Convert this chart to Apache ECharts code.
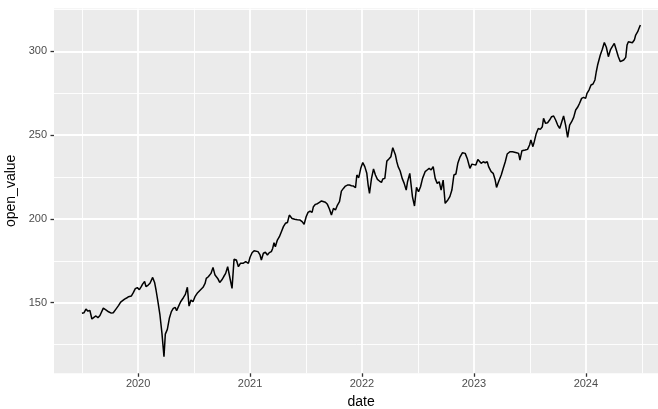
<!DOCTYPE html>
<html>
<head>
<meta charset="utf-8">
<script src="https://cdn.jsdelivr.net/npm/echarts@6/dist/echarts.min.js"></script>
<style>html,body{margin:0;padding:0;background:#fff}#c{width:658px;height:409px}</style>
</head>
<body>
<div id="c"></div>
<script>
var yearFrac = [
2019.498,2019.516,2019.534,2019.551,2019.569,2019.587,2019.605,2019.623,2019.641,2019.659,
2019.689,2019.712,2019.736,2019.760,2019.778,2019.802,2019.826,2019.844,2019.861,2019.879,
2019.897,2019.915,2019.939,2019.957,2019.975,2019.993,2020.011,2020.028,2020.040,2020.058,
2020.070,2020.088,2020.106,2020.130,2020.148,2020.160,2020.177,2020.195,2020.213,2020.231,
2020.243,2020.261,2020.279,2020.297,2020.314,2020.332,2020.344,2020.362,2020.380,2020.404,
2020.422,2020.440,2020.455,2020.472,2020.490,2020.508,2020.532,2020.556,2020.580,2020.598,
2020.609,2020.627,2020.651,2020.669,2020.687,2020.711,2020.729,2020.747,2020.764,2020.782,
2020.800,2020.818,2020.839,2020.857,2020.878,2020.896,2020.914,2020.937,2020.961,2020.985,
2021.000,2021.018,2021.036,2021.053,2021.071,2021.089,2021.101,2021.119,2021.137,2021.155,
2021.172,2021.190,2021.202,2021.214,2021.226,2021.244,2021.262,2021.280,2021.298,2021.316,
2021.334,2021.351,2021.363,2021.375,2021.399,2021.423,2021.447,2021.465,2021.483,2021.501,
2021.518,2021.536,2021.554,2021.566,2021.584,2021.602,2021.620,2021.638,2021.655,2021.673,
2021.691,2021.709,2021.727,2021.745,2021.763,2021.781,2021.799,2021.816,2021.834,2021.852,
2021.870,2021.888,2021.906,2021.924,2021.942,2021.954,2021.971,2021.989,2022.007,2022.025,
2022.043,2022.055,2022.067,2022.085,2022.103,2022.120,2022.138,2022.156,2022.174,2022.186,
2022.204,2022.222,2022.240,2022.258,2022.275,2022.287,2022.299,2022.311,2022.323,2022.341,
2022.359,2022.377,2022.395,2022.407,2022.427,2022.439,2022.451,2022.469,2022.487,2022.505,
2022.523,2022.541,2022.564,2022.582,2022.600,2022.618,2022.636,2022.654,2022.672,2022.690,
2022.707,2022.725,2022.743,2022.767,2022.785,2022.803,2022.821,2022.839,2022.856,2022.874,
2022.898,2022.922,2022.940,2022.964,2022.982,2022.999,2023.017,2023.035,2023.047,2023.065,
2023.083,2023.101,2023.119,2023.131,2023.154,2023.172,2023.190,2023.202,2023.220,2023.244,
2023.262,2023.280,2023.297,2023.321,2023.345,2023.381,2023.399,2023.411,2023.429,2023.458,
2023.479,2023.497,2023.509,2023.527,2023.539,2023.557,2023.575,2023.593,2023.611,2023.622,
2023.640,2023.658,2023.676,2023.694,2023.712,2023.730,2023.748,2023.766,2023.783,2023.801,
2023.819,2023.837,2023.855,2023.873,2023.891,2023.909,2023.926,2023.944,2023.962,2023.980,
2023.998,2024.010,2024.028,2024.046,2024.064,2024.081,2024.093,2024.105,2024.117,2024.129,
2024.147,2024.165,2024.183,2024.201,2024.219,2024.236,2024.254,2024.272,2024.290,2024.308,
2024.320,2024.338,2024.356,2024.368,2024.380,2024.397,2024.415,2024.433,2024.445,2024.463,
2024.475,2024.487
];
var openValue = [
143.7,144.0,146.2,145.0,145.4,140.3,141.3,142.1,141.1,142.4,
146.8,145.8,144.6,143.8,144.0,146.2,148.4,150.4,150.8,152.2,
152.8,153.6,154.0,156.0,158.4,159.0,157.8,159.6,161.1,162.7,
159.6,160.4,161.6,165.1,161.9,157.6,150.6,142.7,131.7,117.8,
131.3,134.1,140.7,144.7,146.6,147.2,145.2,148.0,150.6,153.0,
155.0,159.2,148.0,151.6,150.6,153.6,156.0,157.6,159.2,161.5,
164.5,165.5,167.5,171.1,166.5,164.5,162.1,163.5,165.5,167.5,
171.5,165.5,158.6,175.9,175.5,171.5,173.5,173.5,174.5,173.5,
177.1,179.8,181.0,180.8,180.5,178.5,175.5,179.5,180.1,178.5,
179.9,180.5,182.4,185.8,183.4,187.4,189.4,192.4,195.4,197.4,
197.9,202.3,202.7,200.3,199.8,199.5,199.3,198.4,196.8,201.3,
203.9,204.7,203.9,207.3,208.7,209.1,209.9,210.7,211.3,209.9,
208.7,205.9,202.3,206.3,205.3,208.3,210.3,216.6,218.2,219.6,
220.2,220.2,219.8,219.6,218.6,226.2,224.6,230.2,233.6,231.2,
227.2,220.2,215.3,224.2,229.8,226.2,223.6,222.6,221.8,223.8,
224.2,234.5,235.7,237.1,242.5,241.7,238.1,234.1,231.2,228.6,
224.2,221.2,217.2,222.2,227.2,226.2,213.2,207.7,218.8,216.2,
219.2,224.2,228.2,229.2,230.2,229.2,231.2,224.2,221.2,222.2,
217.2,223.2,209.3,211.3,213.3,217.2,226.2,226.8,233.2,236.7,
239.5,239.1,236.1,230.2,232.7,233.2,232.1,235.5,235.5,233.2,
234.1,233.5,234.1,231.2,228.2,227.2,223.2,218.8,222.2,226.2,
230.2,234.1,238.7,240.1,240.1,239.5,239.1,235.1,240.7,241.1,
241.5,244.1,247.1,243.1,246.1,251.0,254.0,253.4,255.0,260.0,
257.0,257.4,259.0,261.0,261.4,259.0,256.0,254.0,255.0,261.4,
256.0,248.7,256.0,258.0,260.6,265.0,266.6,269.0,271.9,272.5,
271.9,274.9,276.9,279.9,280.5,282.9,287.8,291.8,294.8,297.8,
301.2,305.2,302.4,296.8,300.8,302.8,304.7,300.8,296.8,293.8,
292.8,294.8,296.4,303.8,305.7,306.3,305.1,306.7,309.7,311.7,
313.7,315.7
];
var xMajor = [2020, 2021, 2022, 2023, 2024];
var xMinor = [2019.5, 2020.5, 2021.5, 2022.5, 2023.5, 2024.5];
var yMajor = [150, 200, 250, 300];
var yMinor = [125, 175, 225, 275, 325];

var FONT = '"Liberation Sans", Arial, sans-serif';
function ext(arr) {
  var lo = Math.min.apply(null, arr), hi = Math.max.apply(null, arr), r = hi - lo;
  return [lo - 0.05 * r, hi + 0.05 * r];
}
var xr = ext(yearFrac), yr = ext(openValue);
var pts = yearFrac.map(function (d, i) { return [d, openValue[i]]; });

var chart = echarts.init(document.getElementById('c'), null, {renderer: 'canvas'});
chart.setOption({
  animation: false,
  backgroundColor: '#ffffff',
  grid: {left: 54, right: -10.3, top: 8.4, bottom: 35.7, containLabel: false, outerBoundsMode: 'none',
         show: true, backgroundColor: '#EBEBEB', borderWidth: 0},
  xAxis: [{
    type: 'value', min: xr[0], max: xr[1],
    axisLine: {show: false},
    axisTick: {show: true, length: 3.5, customValues: xMajor, lineStyle: {color: '#333333', width: 1.3}},
    axisLabel: {customValues: xMajor, margin: 5.5, color: '#4D4D4D', fontSize: 11, fontFamily: FONT,
                formatter: function (v) { return String(Math.round(v)); }},
    splitLine: {show: true, lineStyle: {color: '#FFFFFF', width: 1.8}},
    name: 'date', nameLocation: 'middle', nameGap: 21,
    nameTextStyle: {color: '#000000', fontSize: 14, fontFamily: FONT}
  }, {
    type: 'value', min: xr[0], max: xr[1], position: 'bottom',
    axisLine: {show: false}, axisTick: {show: false, customValues: xMinor},
    axisLabel: {show: false, customValues: xMinor},
    splitLine: {show: true, lineStyle: {color: '#FFFFFF', width: 0.9}}
  }],
  yAxis: [{
    type: 'value', min: yr[0], max: yr[1],
    axisLine: {show: false},
    axisTick: {show: true, length: 3.5, customValues: yMajor, lineStyle: {color: '#333333', width: 1.3}},
    axisLabel: {customValues: yMajor, margin: 7, color: '#4D4D4D', fontSize: 11, fontFamily: FONT},
    splitLine: {show: true, lineStyle: {color: '#FFFFFF', width: 1.8}},
    name: 'open_value', nameLocation: 'middle', nameGap: 30, nameRotate: 90,
    nameTextStyle: {color: '#000000', fontSize: 14, fontFamily: FONT}
  }, {
    type: 'value', min: yr[0], max: yr[1], position: 'left',
    axisLine: {show: false}, axisTick: {show: false, customValues: yMinor},
    axisLabel: {show: false, customValues: yMinor},
    splitLine: {show: true, lineStyle: {color: '#FFFFFF', width: 0.9}}
  }],
  series: [{
    type: 'line', xAxisIndex: 0, yAxisIndex: 0, data: pts,
    showSymbol: false, symbol: 'none', clip: true,
    lineStyle: {color: '#000000', width: 1.5}
  }]
});
</script>
</body>
</html>
